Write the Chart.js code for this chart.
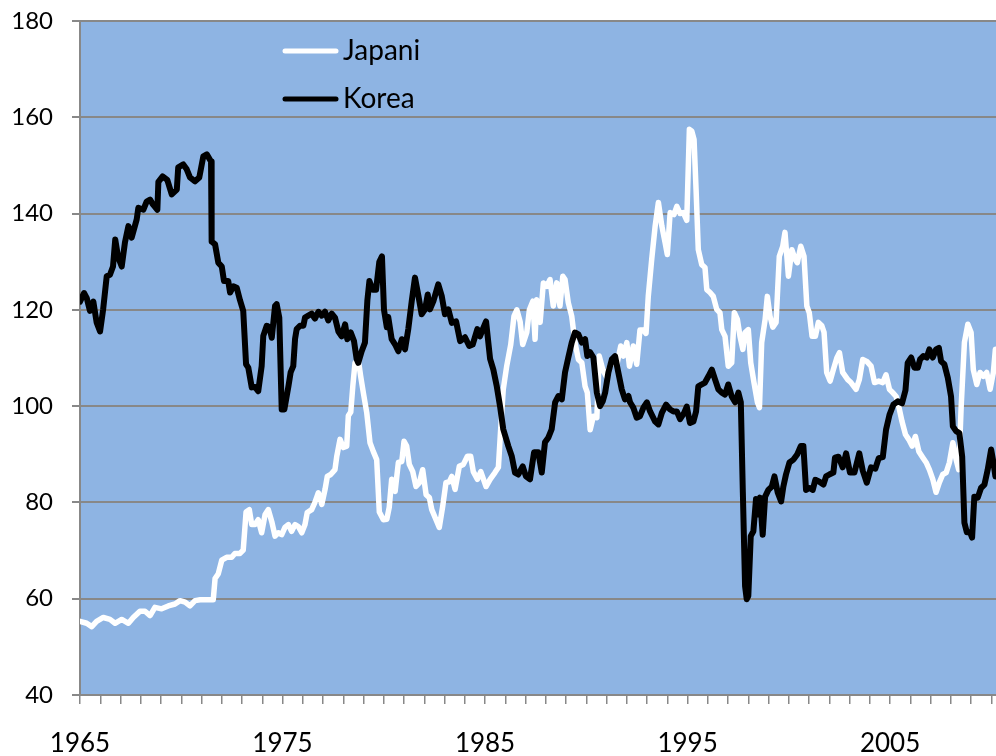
<!DOCTYPE html>
<html>
<head>
<meta charset="utf-8">
<script src="https://cdn.jsdelivr.net/npm/chart.js@4.4.1/dist/chart.umd.min.js"></script>
<style>
  html, body { margin: 0; padding: 0; background: #ffffff; }
  #c { display: block; }
</style>
</head>
<body>
<canvas id="c" width="996" height="756"></canvas>
<script>
// ---- Data (decimal year, index value) ----
const seriesNames = ['Japani', 'Korea'];
const xTickLabels = [1965, 1975, 1985, 1995, 2005];
const yTickValues = [40, 60, 80, 100, 120, 140, 160, 180];

const japanDates = [
  1965.00,1965.33,1965.58,1965.82,1966.15,1966.48,1966.73,1967.06,1967.39,1967.63,
  1967.96,1968.21,1968.46,1968.70,1969.03,1969.36,1969.69,1969.94,1970.19,1970.43,
  1970.68,1970.93,1971.26,1971.58,1971.67,1971.83,1972.00,1972.24,1972.49,1972.65,
  1972.90,1973.06,1973.20,1973.36,1973.48,1973.64,1973.80,1973.97,1974.14,1974.30,
  1974.47,1974.63,1974.79,1974.96,1975.12,1975.29,1975.45,1975.62,1975.78,1975.95,
  1976.11,1976.22,1976.44,1976.60,1976.77,1976.94,1977.10,1977.21,1977.38,1977.59,
  1977.68,1977.84,1978.00,1978.17,1978.25,1978.37,1978.47,1978.58,1978.74,1978.86,
  1978.99,1979.16,1979.32,1979.48,1979.65,1979.78,1979.98,1980.15,1980.27,1980.39,
  1980.56,1980.72,1980.89,1981.00,1981.13,1981.26,1981.43,1981.59,1981.76,1981.92,
  1982.09,1982.25,1982.37,1982.58,1982.74,1982.91,1983.07,1983.24,1983.36,1983.52,
  1983.73,1983.93,1984.13,1984.29,1984.42,1984.62,1984.79,1985.05,1985.25,1985.49,
  1985.66,1985.78,1985.90,1986.07,1986.27,1986.43,1986.57,1986.73,1986.86,1987.06,
  1987.19,1987.36,1987.47,1987.55,1987.72,1987.88,1988.05,1988.21,1988.37,1988.54,
  1988.70,1988.84,1988.95,1989.11,1989.28,1989.44,1989.61,1989.78,1989.94,1990.05,
  1990.19,1990.35,1990.52,1990.64,1990.81,1990.98,1991.17,1991.34,1991.53,1991.70,
  1991.83,1992.00,1992.13,1992.32,1992.49,1992.65,1992.82,1992.95,1993.06,1993.23,
  1993.40,1993.56,1993.73,1993.89,1994.00,1994.14,1994.33,1994.47,1994.63,1994.79,
  1994.96,1995.09,1995.21,1995.32,1995.42,1995.53,1995.70,1995.86,1995.95,1996.11,
  1996.27,1996.44,1996.60,1996.69,1996.85,1997.01,1997.18,1997.31,1997.46,1997.59,
  1997.73,1997.84,1998.00,1998.12,1998.28,1998.45,1998.55,1998.66,1998.83,1998.94,
  1999.07,1999.21,1999.37,1999.53,1999.70,1999.81,1999.98,2000.15,2000.31,2000.42,
  2000.59,2000.75,2000.89,2001.01,2001.15,2001.31,2001.46,2001.63,2001.74,2001.87,
  2002.04,2002.20,2002.37,2002.50,2002.66,2002.91,2003.07,2003.32,2003.48,2003.65,
  2003.85,2004.06,2004.23,2004.44,2004.64,2004.80,2004.97,2005.13,2005.30,2005.43,
  2005.59,2005.76,2005.92,2006.09,2006.25,2006.42,2006.62,2006.78,2006.94,2007.11,
  2007.27,2007.43,2007.60,2007.77,2007.93,2008.10,2008.26,2008.39,2008.51,2008.67,
  2008.84,2009.00,2009.11,2009.28,2009.44,2009.61,2009.77,2009.94,2010.10,2010.20
];
const japanValues = [
  55.3,54.9,54.2,55.3,56.1,55.7,54.9,55.7,54.9,56.1,
  57.4,57.4,56.5,58.2,57.9,58.5,58.9,59.6,59.3,58.5,
  59.6,59.8,59.8,59.8,64.2,65.2,68,68.6,68.6,69.4,
  69.4,70.1,78,78.5,75.4,75.4,76.4,73.7,77.5,78.5,
  76,73,73.7,73.3,74.8,75.4,74,75.4,75,73.7,
  75.4,77.9,78.5,80,82,79.6,82.7,85.4,85.8,86.8,
  89.6,93.1,91.4,91.7,98,98.8,104.1,109,109.7,106.2,
  102.8,98.6,92.4,90.6,88.9,78,76.4,76.5,79,84.8,
  82.3,88.3,88.5,92.7,91.7,87.9,86.4,83.3,84.1,86.8,
  81.6,81,78.5,76.4,74.8,79.2,84.1,84.3,85.4,82.7,
  87.5,87.9,89.6,89.6,86.4,84.8,86.4,83.3,84.8,86.2,
  87.3,95.8,103.5,108.3,112.8,118.7,120,117.6,112.8,115.3,
  120,121.8,113.9,122.1,117.4,125.6,124.9,126.3,120.8,125.6,
  120.8,127,126.3,121.5,118.7,113.2,109.7,109,104.1,102.8,
  95.1,97.9,97.6,110.4,107.6,106.2,108.3,109.3,109,112.5,
  110.4,113.2,108.3,112.5,108.7,115.8,115.8,115.1,122.8,130.5,
  137.4,142.3,137.4,134,131.5,140.2,139.8,141.5,140,140.2,
  138.6,157.5,157.1,155.4,145,132.5,129.4,128.8,124.2,123.6,
  122.8,120.1,119.4,115.9,114.5,108.3,109,119.4,118,114.5,
  111.8,115.3,115.9,109,104.9,100.8,99.7,113.2,118,122.8,
  118.7,116.4,117.4,131.1,133.2,136.1,127,132.5,130.5,129.8,
  133.2,131.1,120.8,119.4,114.5,114.5,117.4,116.7,115.3,107,
  105.2,107.6,110,111.1,107,105.5,104.9,103.5,105.5,109.7,
  109.3,108.3,104.9,105.2,104.9,106.5,103.5,102.8,102,99.9,
  96.8,94.1,93.1,91.7,93.7,90.6,89.3,88.3,86.8,84.8,
  82.1,84.1,85.8,86.2,88.3,92.4,88.9,86.8,99.9,113.2,
  117,115.3,107.6,104.5,107,106.2,107,103.5,107,111.8
];

const koreaDates = [
  1965.00,1965.20,1965.33,1965.49,1965.66,1965.82,1965.99,1966.14,1966.32,1966.48,
  1966.63,1966.74,1966.88,1967.06,1967.22,1967.39,1967.55,1967.80,1967.88,1968.13,
  1968.29,1968.46,1968.60,1968.82,1968.87,1969.08,1969.31,1969.53,1969.78,1969.85,
  1970.10,1970.27,1970.43,1970.68,1970.89,1971.09,1971.26,1971.47,1971.50,1971.67,
  1971.83,1972.00,1972.11,1972.32,1972.41,1972.57,1972.74,1972.90,1973.06,1973.20,
  1973.31,1973.48,1973.64,1973.80,1973.97,1974.05,1974.22,1974.35,1974.47,1974.63,
  1974.71,1974.84,1974.96,1975.09,1975.29,1975.40,1975.53,1975.62,1975.70,1975.86,
  1976.03,1976.11,1976.27,1976.44,1976.60,1976.77,1976.94,1977.10,1977.26,1977.43,
  1977.59,1977.76,1977.92,1978.09,1978.20,1978.37,1978.53,1978.66,1978.74,1978.91,
  1979.07,1979.19,1979.29,1979.45,1979.62,1979.78,1979.91,1980.01,1980.15,1980.22,
  1980.39,1980.56,1980.72,1980.89,1981.05,1981.21,1981.38,1981.54,1981.71,1981.87,
  1982.04,1982.17,1982.28,1982.45,1982.69,1982.86,1983.02,1983.19,1983.36,1983.57,
  1983.77,1984.01,1984.22,1984.39,1984.62,1984.75,1984.89,1985.05,1985.25,1985.41,
  1985.58,1985.74,1985.90,1986.15,1986.32,1986.48,1986.64,1986.86,1987.02,1987.22,
  1987.42,1987.63,1987.80,1987.96,1988.13,1988.29,1988.46,1988.62,1988.79,1988.95,
  1989.11,1989.28,1989.44,1989.61,1989.78,1989.94,1990.05,1990.19,1990.35,1990.52,
  1990.68,1990.81,1990.93,1991.09,1991.26,1991.42,1991.58,1991.75,1991.91,1992.08,
  1992.16,1992.32,1992.49,1992.65,1992.82,1992.99,1993.15,1993.40,1993.56,1993.73,
  1993.94,1994.14,1994.30,1994.47,1994.63,1994.83,1994.96,1995.12,1995.29,1995.42,
  1995.53,1995.70,1995.86,1996.03,1996.20,1996.36,1996.52,1996.69,1996.85,1997.01,
  1997.18,1997.35,1997.51,1997.63,1997.73,1997.84,1997.92,1998.00,1998.12,1998.25,
  1998.38,1998.50,1998.58,1998.71,1998.83,1998.99,1999.16,1999.29,1999.45,1999.62,
  1999.73,1999.86,2000.03,2000.23,2000.42,2000.59,2000.72,2000.85,2001.01,2001.18,
  2001.31,2001.51,2001.71,2001.84,2002.00,2002.20,2002.28,2002.45,2002.66,2002.83,
  2003.02,2003.24,2003.48,2003.65,2003.85,2004.06,2004.27,2004.44,2004.64,2004.80,
  2004.97,2005.16,2005.38,2005.59,2005.76,2005.87,2006.04,2006.20,2006.37,2006.48,
  2006.64,2006.81,2006.94,2007.11,2007.27,2007.41,2007.52,2007.68,2007.85,2008.01,
  2008.10,2008.26,2008.42,2008.56,2008.67,2008.79,2008.95,2009.05,2009.16,2009.33,
  2009.49,2009.66,2009.82,2009.99,2010.10,2010.20
];
const koreaValues = [
  121.7,123.5,122.5,119.8,121.7,117.4,115.5,120,127,127.3,
  129,134.6,131,129,134,137.4,135,138.8,141.2,140.8,
  142.5,142.9,141.9,140.8,146.6,147.7,147,144,145,149.6,
  150.2,149.2,147.5,146.7,147.5,151.9,152.3,150.8,134.2,133.6,
  129.8,129,126,126,123.6,124.9,124.6,122,119.8,108.7,
  108,103.9,104,103.1,108.3,114.6,116.7,116.4,114.2,120.8,
  121.2,118.4,99.3,99.3,104.1,107,108.3,114,116,116.7,
  116.7,118.4,118.8,119.2,118.2,119.6,118.8,119.6,117.8,119.2,
  118.4,115.5,114.5,117,113.9,115.3,113.5,109.8,109,111.4,
  113.2,122,126,124.2,124.2,130,131.1,120,116.4,118.5,
  113.9,112.8,111.4,113.9,111.8,116,121.8,126.7,122.9,119.1,
  120.1,123.2,120.1,121.8,125.3,122.9,119.1,120.1,117.3,117.6,
  113.5,114.3,112.5,112.8,116,114.5,116,117.6,109.8,107.6,
  104.1,100,95.2,91.7,89.6,86.2,85.8,87.5,85.4,84.8,
  90.4,90.4,86.2,92.5,93.5,95.2,100.8,102.1,101.4,107,
  110.1,113.2,115.3,114.9,113.2,113.9,110.4,111.2,110.1,102.8,
  100,101,102.8,107,109.7,110.4,107,103.5,101.4,102.1,
  100.8,99.7,97.6,97.9,99.7,100.8,98.9,96.8,96.2,98.6,
  100.3,99.3,98.9,98.9,97.3,98.6,99.9,96.5,96.8,98.9,
  104.1,104.5,104.9,106.2,107.6,105.5,103.5,102.8,102.4,104.5,
  102,100.8,102.8,100.8,82.1,62.6,59.9,60.6,73,74,
  80.7,77.5,81,73.3,81.2,82.6,83.3,85.4,82.1,80.2,
  83.3,85.8,88.3,88.9,90,91.7,91.7,82.6,83,82.6,
  84.7,84.3,83.7,85.4,85.8,86.2,89.3,89.5,87.3,90.2,
  86.2,86.2,90.2,86.6,84.1,87.3,87,89.2,89.4,95.1,
  98.2,100.3,101,100.6,103.3,109,110.1,108,108,109.7,
  110.4,110.1,111.8,110.1,111.8,112.1,109.3,108.7,105.9,102,
  95.8,94.8,94.4,89.5,75.8,73.8,73.8,72.7,81.2,81,
  83,83.7,86.8,91,88.4,85.4
];

// ---- helpers ----
function pairs(xs, ys) {
  const n = Math.min(xs.length, ys.length);
  const out = [];
  for (let i = 0; i < n; i++) out.push({ x: xs[i], y: ys[i] });
  return out;
}

const FONT = "Lato, 'Liberation Sans', sans-serif";
const GRID = '#888888';

const plotBg = {
  id: 'plotBg',
  beforeDraw(chart) {
    const a = chart.chartArea, c = chart.ctx;
    c.save();
    c.fillStyle = '#8EB4E3';
    c.fillRect(a.left, a.top, a.right - a.left, a.bottom - a.top);
    c.restore();
  }
};

const insideLegend = {
  id: 'insideLegend',
  afterDatasetsDraw(chart) {
    const c = chart.ctx;
    const rows = [{ i: 0, y: 51 }, { i: 1, y: 99 }];
    c.save();
    rows.forEach(r => {
      const ds = chart.data.datasets[r.i];
      c.beginPath();
      c.lineWidth = 5;
      c.lineCap = 'round';
      c.strokeStyle = ds.borderColor;
      c.moveTo(285, r.y);
      c.lineTo(336, r.y);
      c.stroke();
      c.fillStyle = '#000000';
      c.font = '28px ' + FONT;
      c.textAlign = 'left';
      c.textBaseline = 'alphabetic';
      c.fillText(ds.label, 343, r.y + 9);
    });
    c.restore();
  }
};

function noPad(s) {
  s.paddingLeft = 0;
  s.paddingRight = 0;
  s.paddingTop = 0;
  s.paddingBottom = 0;
}

new Chart(document.getElementById('c'), {
  type: 'line',
  data: {
    datasets: [
      {
        label: seriesNames[0],
        data: pairs(japanDates, japanValues),
        borderColor: '#ffffff',
        borderWidth: 5.5,
        pointRadius: 0,
        tension: 0,
        borderJoinStyle: 'round',
        borderCapStyle: 'round',
        order: 2
      },
      {
        label: seriesNames[1],
        data: pairs(koreaDates, koreaValues),
        borderColor: '#000000',
        borderWidth: 6,
        pointRadius: 0,
        tension: 0,
        borderJoinStyle: 'round',
        borderCapStyle: 'round',
        order: 1
      }
    ]
  },
  options: {
    responsive: false,
    animation: false,
    events: [],
    layout: { padding: { top: 21, right: 0, left: 0, bottom: 0 } },
    plugins: { legend: { display: false }, tooltip: { enabled: false } },
    scales: {
      x: {
        type: 'linear',
        min: 1965,
        max: 2010.23,
        afterFit(s) { s.height = 61; noPad(s); },
        ticks: {
          stepSize: 1,
          autoSkip: false,
          includeBounds: false,
          maxRotation: 0,
          minRotation: 0,
          padding: 24,
          color: '#000000',
          font: { family: FONT, size: 26 },
          callback(v) {
            const yr = Math.round(v);
            return xTickLabels.includes(yr) ? String(yr) : '';
          }
        },
        grid: { drawOnChartArea: false, drawTicks: true, tickLength: 9, color: GRID, lineWidth: 1.5 },
        border: { display: true, color: GRID, width: 2 }
      },
      y: {
        min: 40,
        max: 180,
        afterFit(s) { s.width = 80; noPad(s); },
        afterBuildTicks(s) { s.ticks = yTickValues.map(v => ({ value: v })); },
        ticks: {
          padding: 19,
          color: '#000000',
          font: { family: FONT, size: 24 }
        },
        grid: { color: GRID, lineWidth: 2, tickLength: 8 },
        border: { display: true, color: GRID, width: 2 }
      }
    }
  },
  plugins: [plotBg, insideLegend]
});
</script>
</body>
</html>
